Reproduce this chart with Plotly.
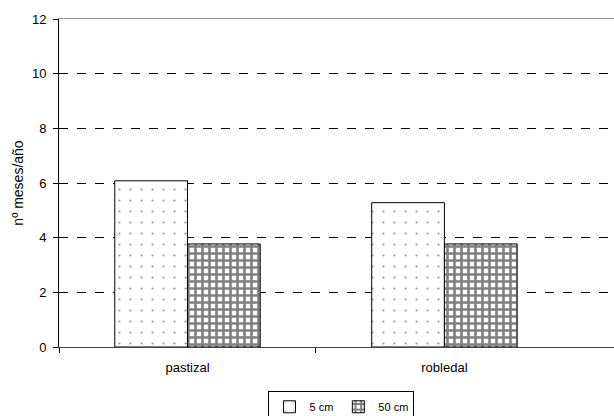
import plotly.graph_objects as go

categories = ["pastizal", "robledal"]
series_names = ["5 cm", "50 cm"]
values_5cm = [6.08, 5.28]
values_50cm = [3.77, 3.77]
y_ticks = [0, 2, 4, 6, 8, 10, 12]

FONT = "Liberation Sans, Arial, sans-serif"

fig = go.Figure()
fig.add_trace(go.Bar(
    x=categories, y=values_5cm, name=series_names[0],
    marker=dict(color="white", line=dict(color="black", width=1),
                pattern=dict(shape=".", fgcolor="#222222", bgcolor="white",
                             size=11, solidity=0.03)),
))
fig.add_trace(go.Bar(
    x=categories, y=values_50cm, name=series_names[1],
    marker=dict(color="white", line=dict(color="black", width=1),
                pattern=dict(shape="+", fgcolor="black", bgcolor="white",
                             size=7, solidity=0.6)),
))

rng = [-0.5, 1.66]
fig.add_trace(go.Scatter(x=[0], y=[0], xaxis="x2", mode="markers",
                         marker=dict(opacity=0), showlegend=False, hoverinfo="skip"))
fig.add_trace(go.Scatter(x=[0], y=[0], xaxis="x3", mode="markers",
                         marker=dict(opacity=0), showlegend=False, hoverinfo="skip"))

fig.update_layout(
    width=614, height=416,
    margin=dict(l=59, r=0, t=19, b=69, autoexpand=False),
    paper_bgcolor="white", plot_bgcolor="white",
    font=dict(family=FONT, size=13, color="black"),
    barmode="group", bargap=0.434, bargroupgap=0,
    showlegend=True,
    legend=dict(orientation="h", x=0.509, xanchor="center", y=-0.135, yanchor="top",
                bordercolor="black", borderwidth=1, bgcolor="white",
                font=dict(family=FONT, size=11), itemwidth=30,
                traceorder="normal", tracegroupgap=0),
    xaxis=dict(type="category", range=rng, showgrid=False, ticks="",
               showline=False, zeroline=False, ticklabelstandoff=11,
               automargin=False, tickfont=dict(family=FONT, size=13)),
    xaxis2=dict(overlaying="x", anchor="y", type="linear", range=rng,
                tickvals=[-0.5, 0.5], ticks="outside", ticklen=5, tickcolor="black",
                showticklabels=False, showgrid=False, zeroline=False,
                showline=True, linecolor="#444444", linewidth=1),
    xaxis3=dict(overlaying="x", anchor="y", side="top", type="linear", range=rng,
                showticklabels=False, ticks="", showgrid=False, zeroline=False,
                showline=True, linecolor="#999999", linewidth=1),
    yaxis=dict(range=[0, 12], tickvals=y_ticks, ticks="outside", ticklen=5,
               tickcolor="black", showline=True, linecolor="black", linewidth=1,
               showgrid=True, gridcolor="black", griddash="dash", gridwidth=1,
               zeroline=False, tickfont=dict(family=FONT, size=13),
               ticklabelstandoff=4, automargin=False,
               title=dict(text="nº meses/año", font=dict(family=FONT, size=14),
                          standoff=5)),
)

fig.write_html("out.html", config={"displayModeBar": False},
               post_script="document.body.style.margin='0';document.body.style.overflow='hidden';")
